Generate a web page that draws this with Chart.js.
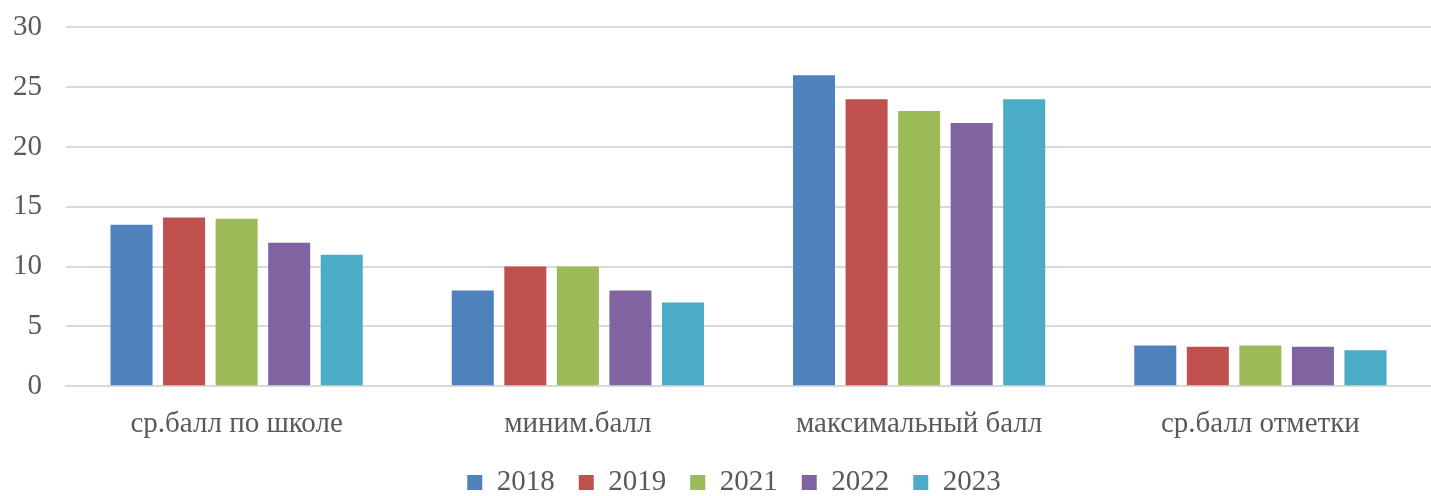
<!DOCTYPE html>
<html>
<head>
<meta charset="utf-8">
<script src="https://cdn.jsdelivr.net/npm/chart.js@4/dist/chart.umd.min.js"></script>
<style>
    html, body { margin: 0; padding: 0; background: #ffffff; overflow: hidden; }
    #wrap { width: 1431px; height: 521px; position: relative; top: -14px; }
</style>
</head>
<body>
<div id="wrap"><canvas id="scoreChart"></canvas></div>
<script>
const categories = ["ср.балл по школе", "миним.балл", "максимальный балл", "ср.балл отметки"];
const years = ["2018", "2019", "2021", "2022", "2023"];
const values2018 = [13.5, 8, 26, 3.4];
const values2019 = [14.1, 10, 24, 3.3];
const values2021 = [14, 10, 23, 3.4];
const values2022 = [12, 8, 22, 3.3];
const values2023 = [11, 7, 24, 3];
const colors = ["#4F81BD", "#C0504D", "#9BBB59", "#8064A2", "#4BACC6"];

const series = [values2018, values2019, values2021, values2022, values2023];

// legend keeps its wide horizontal spacing but sits closer to the axis
const LEGEND_LIFT = 19;
const LEGEND_SHIFT = 24;
const tightLegend = {
    id: "tightLegend",
    beforeInit(chart) {
        const legend = chart.legend;
        if (!legend) return;
        const fit = legend.fit;
        const draw = legend.draw;
        legend.fit = function () {
            fit.call(this);
            this.height -= LEGEND_LIFT;
        };
        legend.draw = function () {
            const top = this.top, left = this.left, right = this.right;
            this.top = top - LEGEND_LIFT;
            this.left = left + LEGEND_SHIFT;
            this.right = right + LEGEND_SHIFT;
            draw.apply(this, arguments);
            this.top = top;
            this.left = left;
            this.right = right;
        };
    }
};

const ctx = document.getElementById("scoreChart").getContext("2d");

new Chart(ctx, {
    type: "bar",
    data: {
        labels: categories,
        datasets: years.map((y, i) => ({
            label: y,
            data: series[i],
            backgroundColor: colors[i],
            borderWidth: 0,
            categoryPercentage: 0.77,
            barPercentage: 0.8
        }))
    },
    options: {
        responsive: true,
        maintainAspectRatio: false,
        animation: false,
        layout: {
            padding: { left: -11, right: 0, top: 0, bottom: 0 }
        },
        plugins: {
            legend: {
                position: "bottom",
                labels: {
                    font: { family: "Liberation Serif", size: 29 },
                    color: "#595959",
                    boxWidth: 15,
                    boxHeight: 15,
                    padding: 24
                }
            },
            tooltip: { enabled: false }
        },
        scales: {
            x: {
                grid: { display: false, drawTicks: false },
                border: { color: "#d9d9d9", width: 2 },
                ticks: {
                    font: { family: "Liberation Serif", size: 29 },
                    color: "#595959",
                    padding: 21
                }
            },
            y: {
                min: 0,
                max: 30,
                ticks: {
                    stepSize: 5,
                    font: { family: "Liberation Serif", size: 29 },
                    color: "#595959",
                    padding: 24
                },
                grid: { color: "#d9d9d9", lineWidth: 2, drawTicks: false },
                border: { display: false }
            }
        }
    },
    plugins: [tightLegend]
});
</script>
</body>
</html>
